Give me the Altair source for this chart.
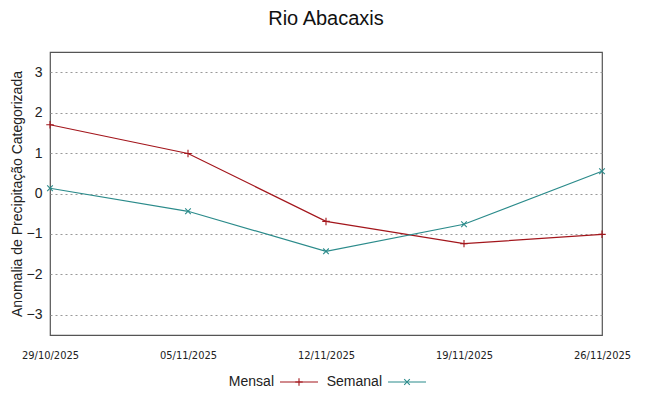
import altair as alt
import pandas as pd

dates = ["2025-10-29", "2025-11-05", "2025-11-12", "2025-11-19", "2025-11-26"]
mensal = [1.70, 0.99, -0.69, -1.24, -1.01]
semanal = [0.13, -0.44, -1.43, -0.76, 0.55]
series = ["Mensal", "Semanal"]
colors = ["#a3161c", "#2b8b8b"]
y_ticks = [-3, -2, -1, 0, 1, 2, 3]

rows = []
for d, m, s in zip(dates, mensal, semanal):
    rows.append({"data": d, "serie": "Mensal", "valor": m})
    rows.append({"data": d, "serie": "Semanal", "valor": s})
df = pd.DataFrame(rows)

plus_path = "M-1,0H1M0,-1V1"
x_path = "M-0.75,-0.75L0.75,0.75M-0.75,0.75L0.75,-0.75"
marker_paths = [plus_path, x_path]

font = "Liberation Sans"
narrow = "'Liberation Sans Narrow', 'DejaVu Sans Condensed', 'Liberation Sans', sans-serif"

x_enc = alt.X(
    "data:T",
    scale=alt.Scale(type="utc", domain=[dates[0], dates[-1]]),
    axis=alt.Axis(
        title=None,
        values=dates,
        format="%d/%m/%Y",
        grid=False,
        tickSize=0,
        domain=False,
        labelFontSize=11,
        labelColor="#222",
        labelPadding=14,
        labelFont=narrow,
        labelOverlap=False,
        labelFlush=False,
    ),
)
y_enc = alt.Y(
    "valor:Q",
    scale=alt.Scale(domain=[-3.5, 3.5], nice=False, zero=False),
    axis=alt.Axis(
        title="Anomalia de Precipitação Categorizada",
        values=y_ticks,
        format="d",
        grid=True,
        gridDash=[2, 3],
        gridColor="#999",
        gridWidth=1,
        tickSize=0,
        domain=False,
        labelFontSize=14,
        labelColor="#222",
        labelPadding=8,
        titleFontSize=14,
        titleFontWeight="normal",
        titleColor="#222",
        titlePadding=2,
    ),
)
color_scale = alt.Scale(domain=series, range=colors)

lines = alt.Chart(df).mark_line(strokeWidth=1.2).encode(
    x=x_enc,
    y=y_enc,
    color=alt.Color("serie:N", scale=color_scale, legend=None),
)

point_layers = []
for name, col, path in zip(series, colors, marker_paths):
    point_layers.append(
        alt.Chart(df)
        .transform_filter(alt.datum.serie == name)
        .mark_point(filled=False, strokeWidth=1.1, size=56, opacity=1, shape=path, color=col)
        .encode(x=x_enc, y=y_enc)
    )

# hand-built legend below the plot (label first, then line sample with marker)
legend_y = 330
legend_text_right = [224, 332]
legend_layers = []
for name, col, path, tx in zip(series, colors, marker_paths, legend_text_right):
    ldf = pd.DataFrame({"serie": [name]})
    legend_layers.append(
        alt.Chart(ldf).mark_text(align="right", baseline="middle", fontSize=14, color="#222", font=font)
        .encode(text="serie:N", x=alt.value(tx), y=alt.value(legend_y))
    )
    legend_layers.append(
        alt.Chart(ldf).mark_rule(color=col, strokeWidth=1.2)
        .encode(x=alt.value(tx + 6), x2=alt.value(tx + 44), y=alt.value(legend_y))
    )
    legend_layers.append(
        alt.Chart(ldf).mark_point(filled=False, strokeWidth=1.1, size=56, shape=path, color=col, opacity=1)
        .encode(x=alt.value(tx + 25), y=alt.value(legend_y))
    )

chart = (
    alt.layer(lines, *point_layers, *legend_layers)
    .properties(
        width=552,
        height=283,
        title=alt.TitleParams("Rio Abacaxis", fontSize=20, fontWeight="normal", color="#111", offset=23, font=font),
        autosize=alt.AutoSizeParams(type="none"),
        padding={"left": 42, "top": 44, "right": 30, "bottom": 60},
    )
    .configure(font=font)
    .configure_view(stroke="#555", strokeWidth=1.2)
)

chart.save("out.html", embed_options={"renderer": "svg", "actions": False})
